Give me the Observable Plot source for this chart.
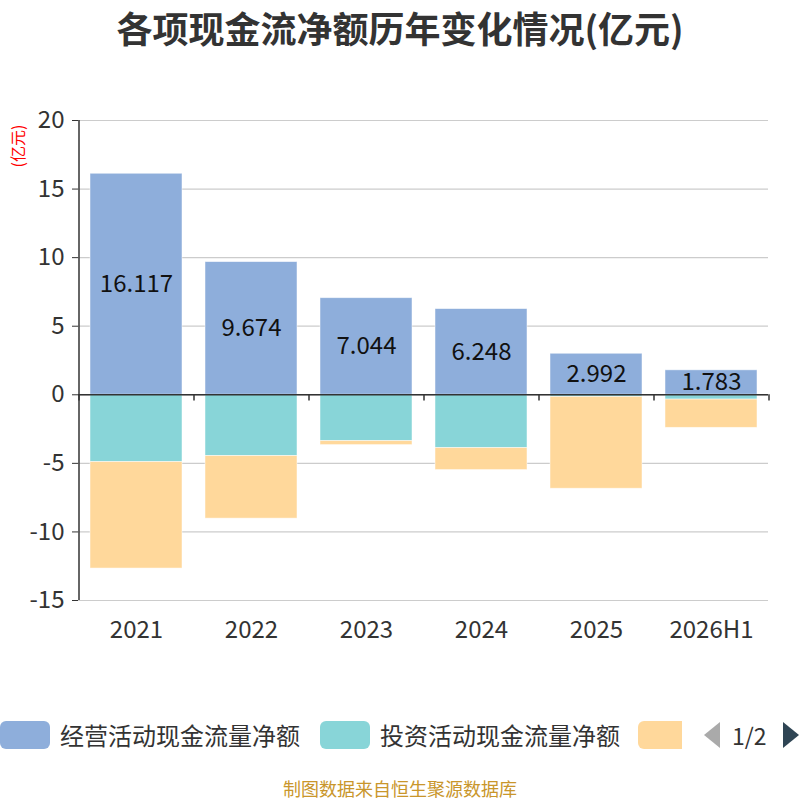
<!DOCTYPE html>
<html>
<head>
<meta charset="utf-8">
<script src="https://cdn.jsdelivr.net/npm/d3@7"></script>
<script src="https://cdn.jsdelivr.net/npm/@observablehq/plot@0.6"></script>
<style>
  body { margin: 0; background: #fff; font-family: "Noto Sans CJK SC", "Noto Sans", sans-serif; }
  #wrap { position: relative; width: 800px; height: 800px; overflow: hidden; }
  #title { position: absolute; left: 0; top: 0; width: 800px; height: 56px; line-height: 54px; text-align: center;
           font-size: 36px; font-weight: bold; color: #333; }
  #chart { position: absolute; left: 0; top: 56px; }
  #unit { position: absolute; left: 17px; top: 146px; transform: translate(-50%, -50%) rotate(-90deg);
          color: red; font-size: 16px; white-space: nowrap; }
  .item { position: absolute; top: 720px; height: 30px; display: flex; align-items: center; }
  .sw { width: 50px; height: 28px; border-radius: 6px; margin-right: 10px; }
  .lt { font-size: 24px; line-height: 30px; color: #333; white-space: nowrap; }
  .tri { position: absolute; top: 722px; }
  #pageText { position: absolute; left: 732px; top: 719px; height: 32px; line-height: 32px; font-size: 23px; color: #333; white-space: nowrap; }
  #caption { position: absolute; left: 0; top: 778px; width: 800px; height: 20px; line-height: 20px; text-align: center; font-size: 18px; color: #c9962b; }
</style>
</head>
<body>
<div id="wrap">
  <div id="title"></div>
  <div id="chart"></div>
  <div id="unit"></div>
  <svg class="tri" style="left:703px" width="18" height="26"><polygon points="17,0 1,13 17,26" fill="#aaa"></polygon></svg>
  <div id="pageText"></div>
  <svg class="tri" style="left:782px" width="18" height="26"><polygon points="1,0 17,13 1,26" fill="#2f4554"></polygon></svg>
  <div id="caption"></div>
</div>
<script>
const titleText = "各项现金流净额历年变化情况(亿元)";
const unitText = "(亿元)";
const captionText = "制图数据来自恒生聚源数据库";
const pageLabel = "1/2";
const years = ["2021", "2022", "2023", "2024", "2025", "2026H1"];
const seriesNames = ["经营活动现金流量净额", "投资活动现金流量净额", "筹资活动现金流量净额"];
const seriesColors = ["#8eaedb", "#88d5d8", "#ffd89b"];
const operating = [16.117, 9.674, 7.044, 6.248, 2.992, 1.783];
const investing = [-4.91, -4.47, -3.38, -3.89, -0.16, -0.35];
const financing = [-7.76, -4.56, -0.29, -1.60, -6.69, -2.06];
const yTicks = [-15, -10, -5, 0, 5, 10, 15, 20];

document.getElementById("title").textContent = titleText;
document.getElementById("unit").textContent = unitText;
document.getElementById("caption").textContent = captionText;
document.getElementById("pageText").textContent = pageLabel;

const seriesValues = [operating, investing, financing];
const rows = [];
seriesNames.forEach((s, i) => years.forEach((y, j) => rows.push({year: y, series: s, value: seriesValues[i][j]})));
const opRows = years.map((y, j) => ({year: y, value: operating[j]}));

const W = 800, H = 610, mL = 78, mR = 32, mT = 64, mB = 66;
const step = (W - mL - mR) / years.length;

const plot = Plot.plot({
  width: W, height: H,
  marginLeft: mL, marginRight: mR, marginTop: mT, marginBottom: mB,
  style: {fontFamily: "'Noto Sans CJK SC', sans-serif", color: "#333", background: "#fff", overflow: "visible"},
  x: {domain: years, paddingInner: 0.2, paddingOuter: 0.1, label: null},
  y: {domain: [-15, 20], label: null},
  color: {domain: seriesNames, range: seriesColors},
  marks: [
    Plot.gridY(yTicks, {stroke: "#cccccc", strokeOpacity: 1, strokeWidth: 1.2}),
    Plot.barY(rows, {x: "year", y: "value", fill: "series", stroke: "#fff", strokeWidth: 0.8, strokeOpacity: 0.6}),
    Plot.ruleY([0], {stroke: "#333", strokeWidth: 1.5}),
    Plot.ruleX(years, {x: d => d, dx: -step / 2, y1: 0, y2: -0.45, stroke: "#333", strokeWidth: 1.5}),
    Plot.ruleX(years.slice(-1), {x: d => d, dx: step / 2, y1: 0, y2: -0.45, stroke: "#333", strokeWidth: 1.5}),
    Plot.ruleX(years.slice(0, 1), {x: d => d, dx: -step / 2, y1: -15, y2: 20, stroke: "#333", strokeWidth: 1.5}),
    Plot.axisY({ticks: yTicks, tickSize: 6, tickPadding: 8, fontSize: 24, tickFormat: d => String(d), stroke: "#333", label: null}),
    Plot.axisX({tickSize: 0, tickPadding: 20, fontSize: 24, label: null}),
    Plot.text(opRows, {x: "year", y: d => d.value / 2, text: d => d.value.toFixed(3), fontSize: 24, fill: "#111"})
  ]
});
document.getElementById("chart").appendChild(plot);

const wrap = document.getElementById("wrap");
const lefts = [0, 320, 638];
seriesNames.forEach((s, i) => {
  const it = document.createElement("div");
  it.className = "item";
  it.style.left = lefts[i] + "px";
  const sw = document.createElement("div");
  sw.className = "sw";
  sw.style.background = seriesColors[i];
  it.appendChild(sw);
  if (i < 2) {
    const t = document.createElement("span");
    t.className = "lt";
    t.textContent = s;
    it.appendChild(t);
  } else {
    // third legend entry is clipped by the legend's page width in the reference
    sw.style.width = "44px";
    sw.style.borderRadius = "6px 0 0 6px";
    sw.style.marginRight = "0";
  }
  wrap.appendChild(it);
});
</script>
</body>
</html>
